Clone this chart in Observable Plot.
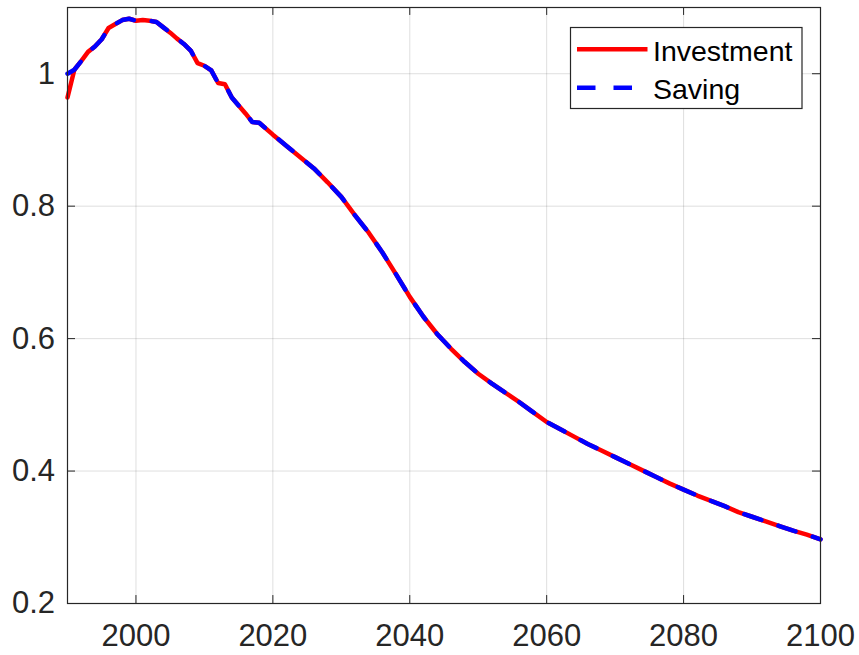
<!DOCTYPE html>
<html>
<head>
<meta charset="utf-8">
<script src="https://cdn.jsdelivr.net/npm/d3@7"></script>
<script src="https://cdn.jsdelivr.net/npm/@observablehq/plot@0.6"></script>
<style>
  html, body { margin: 0; padding: 0; background: #fff; }
  #chart { position: relative; width: 859px; height: 655px; }
</style>
</head>
<body>
<div id="chart"></div>
<script>
const years = [1990, 1991, 1992, 1993, 1994, 1995, 1996, 1997, 1998, 1999,
  2000, 2001, 2002, 2003, 2004, 2005, 2006, 2007, 2008, 2009,
  2010, 2011, 2012, 2013, 2014, 2015, 2016, 2017, 2018,
  2020, 2022, 2024, 2026, 2028, 2030, 2032, 2034, 2036, 2038,
  2040, 2042, 2044, 2046, 2048, 2050, 2052, 2054, 2056, 2058,
  2060, 2062, 2064, 2066, 2068, 2070, 2072, 2074, 2076, 2078,
  2080, 2082, 2084, 2086, 2088, 2090, 2092, 2094, 2096, 2098, 2100];

const saving = [1.000, 1.006, 1.019, 1.033, 1.041, 1.052, 1.069, 1.075, 1.081, 1.083,
  1.080, 1.081, 1.080, 1.078, 1.070, 1.062, 1.053, 1.045, 1.035, 1.016,
  1.012, 1.005, 0.986, 0.984, 0.964, 0.952, 0.940, 0.927, 0.926,
  0.908, 0.891, 0.874, 0.857, 0.836, 0.814, 0.786, 0.760, 0.730, 0.697,
  0.663, 0.633, 0.607, 0.585, 0.565, 0.547, 0.532, 0.518, 0.504, 0.489,
  0.474, 0.463, 0.452, 0.441, 0.431, 0.421, 0.411, 0.401, 0.391, 0.381,
  0.372, 0.363, 0.355, 0.347, 0.338, 0.331, 0.324, 0.317, 0.310, 0.304, 0.297];

const investment = [0.964, 1.006, 1.019, 1.033, 1.041, 1.052, 1.069, 1.075, 1.081, 1.083,
  1.080, 1.081, 1.080, 1.078, 1.070, 1.062, 1.053, 1.045, 1.035, 1.016,
  1.012, 1.005, 0.986, 0.984, 0.964, 0.952, 0.940, 0.927, 0.926,
  0.908, 0.891, 0.874, 0.857, 0.836, 0.814, 0.786, 0.760, 0.730, 0.697,
  0.663, 0.633, 0.607, 0.585, 0.565, 0.547, 0.532, 0.518, 0.504, 0.489,
  0.474, 0.463, 0.452, 0.441, 0.431, 0.421, 0.411, 0.401, 0.391, 0.381,
  0.372, 0.363, 0.355, 0.347, 0.338, 0.331, 0.324, 0.317, 0.310, 0.304, 0.297];

const xTicks = [2000, 2020, 2040, 2060, 2080, 2100];
const yTicks = [0.2, 0.4, 0.6, 0.8, 1.0];
const yTickLabels = ["0.2", "0.4", "0.6", "0.8", "1"];
const seriesNames = ["Investment", "Saving"];
const seriesColors = ["#ff0000", "#0000ff"];

const xDomain = [1990, 2100];
const yDomain = [0.2, 1.1];

const invData = years.map((y, i) => ({year: y, value: investment[i]}));
const savData = years.map((y, i) => ({year: y, value: saving[i]}));

const axisColor = "#262626";
const font = "'Liberation Sans', Arial, Helvetica, sans-serif";

const xTickLen = 0.012; // ~8px inward, in y data units
const yTickLen = 1.17;  // ~8px inward, in x data units

const plot = Plot.plot({
  width: 859,
  height: 655,
  marginLeft: 67,
  marginRight: 39,
  marginTop: 7,
  marginBottom: 52,
  style: {fontFamily: font, fontSize: "31px", color: axisColor, background: "#fff", overflow: "visible"},
  x: {domain: xDomain, label: null},
  y: {domain: yDomain, label: null},
  marks: [
    Plot.gridX(xTicks, {stroke: axisColor, strokeOpacity: 0.15, strokeWidth: 1}),
    Plot.gridY(yTicks, {stroke: axisColor, strokeOpacity: 0.15, strokeWidth: 1}),
    Plot.ruleX(xTicks, {x: d => d, y1: yDomain[0], y2: yDomain[0] + xTickLen, stroke: axisColor}),
    Plot.ruleX(xTicks, {x: d => d, y1: yDomain[1], y2: yDomain[1] - xTickLen, stroke: axisColor}),
    Plot.ruleY(yTicks, {y: d => d, x1: xDomain[0], x2: xDomain[0] + yTickLen, stroke: axisColor}),
    Plot.ruleY(yTicks, {y: d => d, x1: xDomain[1], x2: xDomain[1] - yTickLen, stroke: axisColor}),
    Plot.line(invData, {x: "year", y: "value", stroke: seriesColors[0], strokeWidth: 4.5, strokeLinejoin: "round"}),
    Plot.line(savData, {x: "year", y: "value", stroke: seriesColors[1], strokeWidth: 4.5, strokeDasharray: "18,18"}),
    Plot.axisX(xTicks, {tickSize: 0, tickPadding: 20, fontSize: 31, fill: axisColor, tickFormat: d => String(d)}),
    Plot.axisY(yTicks, {tickSize: 0, tickPadding: 12.5, fontSize: 31, fill: axisColor, tickFormat: d => yTickLabels[yTicks.indexOf(d)]}),
    Plot.frame({stroke: axisColor, strokeWidth: 1.2})
  ]
});

document.getElementById("chart").appendChild(plot);

// Legend (inside plot, top-right)
const svg = d3.select(plot);
const lg = svg.append("g").attr("font-family", font).attr("font-size", 28.5).attr("text-anchor", "start");
lg.append("rect").attr("x", 570.5).attr("y", 27.5).attr("width", 231.5).attr("height", 81)
  .attr("fill", "#fff").attr("stroke", axisColor).attr("stroke-width", 1.2);
const rows = [{y: 49.3, base: 61, dash: null}, {y: 87.8, base: 99, dash: "18.5,18"}];
rows.forEach((r, i) => {
  lg.append("line").attr("x1", 577).attr("x2", 647.5).attr("y1", r.y).attr("y2", r.y)
    .attr("stroke", seriesColors[i]).attr("stroke-width", 4.5)
    .attr("stroke-dasharray", r.dash);
  lg.append("text").attr("x", 653).attr("y", r.base)
    .attr("fill", "#000").text(seriesNames[i]);
});
</script>
</body>
</html>
